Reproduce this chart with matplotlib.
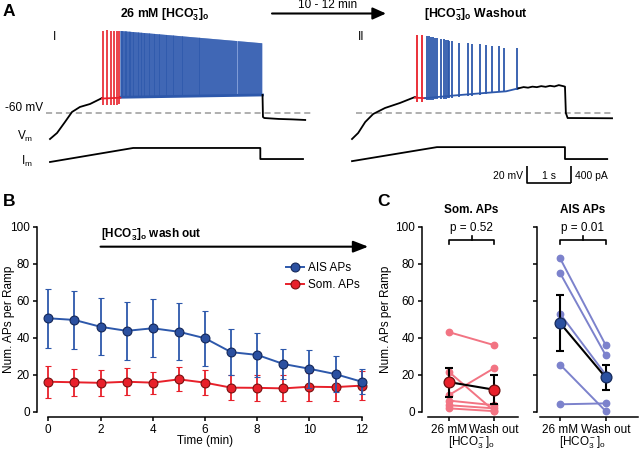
import numpy as np
import matplotlib
matplotlib.use('Agg')
import matplotlib.pyplot as plt
from matplotlib.patches import Polygon
from matplotlib.lines import Line2D

plt.rcParams['font.family'] = ['Liberation Sans', 'DejaVu Sans']
plt.rcParams['mathtext.fontset'] = 'custom'
plt.rcParams['mathtext.rm'] = 'Liberation Sans'
plt.rcParams['mathtext.bf'] = 'Liberation Sans:bold'
plt.rcParams['mathtext.it'] = 'Liberation Sans:italic'

# ---------------------------------------------------------------- data
# Panel A, trace I (26 mM HCO3-), time in s, Vm in mV, Im in pA
vm1_t = [0, 0.16, 0.34, 0.50, 0.68, 0.91, 1.14, 1.18]
vm1_v = [-90.6, -83.5, -70.6, -58.8, -52.9, -49.4, -43.5, -42.4]
red1_t = [1.197, 1.289, 1.38, 1.455, 1.516, 1.575]
red1_peak = [37, 37.5, 37, 37, 36.5, 36.5]
red1_trough = [-51, -51, -50.5, -50, -50, -49.5]
red1_base_t = [1.18, 1.60]
red1_base_v = [-43, -42]
blue1_t = [1.61, 1.64, 1.67, 1.70, 1.73, 1.76, 1.79, 1.82, 1.85, 1.885, 1.92,
           1.955, 1.99, 2.025, 2.06, 2.095, 2.13, 2.17, 2.205, 2.24, 2.28,
           2.315, 2.355, 2.39, 2.43, 2.47, 2.505, 2.545, 2.585, 2.625, 2.665,
           2.70, 2.745, 2.785, 2.825, 2.865, 2.905, 2.95, 2.99, 3.03, 3.075,
           3.115, 3.16, 3.20, 3.245, 3.29, 3.33, 3.375, 3.42, 3.46, 3.505,
           3.55, 3.595, 3.64, 3.685, 3.73, 3.775, 3.82, 3.865, 3.91, 3.96,
           4.005, 4.05, 4.095, 4.145, 4.19, 4.235, 4.285, 4.33, 4.375, 4.425,
           4.47, 4.52, 4.565, 4.61, 4.66, 4.705, 4.75, 4.795]
blue1_env_t = [1.60, 4.83]
blue1_env_peak = [36.5, 22.0]
blue1_env_trough = [-41.5, -38.8]
post1_t = [4.83, 4.84, 4.87, 5.2, 5.5, 5.8]
post1_v = [-38.8, -64.7, -65.9, -67.0, -67.5, -68.2]
im1_t = [0, 1.89, 4.78, 4.78, 5.75]
im1_i = [0, 330, 330, 70, 70]

# Panel A, trace II (washout)
vm2_t = [0, 0.14, 0.30, 0.48, 0.75, 1.09, 1.43]
vm2_v = [-90.6, -83.5, -70.6, -61.2, -54.1, -48.2, -41.2]
red2_t = [1.47, 1.598]
red2_peak = [31.8, 31.8]
red2_trough = [-47, -46.5]
red2_base_t = [1.43, 1.66]
red2_base_v = [-42, -42.5]
blue2_base_t = [1.66, 2.3, 3.0, 3.5, 3.78]
blue2_base_v = [-42.5, -39.5, -36.5, -34.5, -31.0]
blue2_t = [1.70, 1.75, 1.79, 1.85, 1.89, 1.94, 2.02, 2.08, 2.13, 2.18, 2.21,
           2.28, 2.44, 2.63, 2.73, 2.90, 3.05, 3.18, 3.33, 3.46, 3.74]
blue2_peak = [30.6, 30.6, 29.4, 29.4, 28.2, 28.2, 27.1, 27.1, 25.9, 25.9, 24.7,
              24.7, 22.4, 22.4, 21.2, 21.2, 20.0, 18.8, 18.8, 16.5, 16.5]
blue2_trough = [-45, -45, -44.5, -44.5, -44, -44, -43.5, -43, -43, -42.5, -42.5,
                -42, -41, -40, -39.5, -38.5, -37.5, -36.5, -35.5, -35, -33]
post2_t = [3.78, 3.9, 4.0, 4.1, 4.2, 4.3, 4.4, 4.5, 4.6, 4.7, 4.8, 4.84, 4.86,
           4.9, 5.3, 5.91]
post2_v = [-31, -29.5, -30.2, -29.0, -29.6, -28.4, -29.2, -28.0, -28.8, -27.2,
           -28.4, -29, -60, -65.9, -66.0, -66.2]
im2_t = [0, 1.93, 4.84, 4.84, 5.80]
im2_i = [20, 350, 350, 70, 70]

# Panel B
minutes = [0, 1, 2, 3, 4, 5, 6, 7, 8, 9, 10, 11, 12]
ais_mean = [50.5, 49.6, 45.9, 43.7, 45.1, 43.2, 39.7, 32.2, 30.7, 25.8, 23.2, 20.3, 16.2]
ais_err = [15.8, 15.6, 15.4, 15.6, 15.8, 15.4, 15.0, 12.3, 11.7, 8.0, 10.2, 9.9, 6.8]
som_mean = [16.2, 15.9, 15.6, 16.2, 15.7, 17.5, 15.7, 13.0, 12.9, 12.6, 13.5, 13.3, 14.1]
som_err = [8.7, 7.3, 6.9, 7.3, 5.9, 6.4, 6.6, 6.8, 6.9, 7.0, 7.5, 7.5, 7.7]

# Panel C
conds = ['26 mM', 'Wash out']
som_26 = [43, 21.5, 9, 6, 3.5, 1.8]
som_wash = [36, 0.5, 23.5, 3.5, 1.8, 0.3]
som_c_mean = [16.0, 11.9]
som_c_err = [7.85, 7.9]
ais_26 = [83, 75, 53, 25.5, 4]
ais_wash = [36, 30.5, 20, 0.3, 4.5]
ais_c_mean = [48.0, 18.5]
ais_c_err = [15.0, 6.9]

# ---------------------------------------------------------------- colours
RED = '#e8202a'
BLUE = '#2d58ab'
GREY = '#9a9a9a'
PINK = '#f27483'
LAV = '#7c82cc'

W, H = 640, 454
fig = plt.figure(figsize=(6.4, 4.54), dpi=100)


def ax_px(x0, y0, x1, y1):
    return fig.add_axes([x0 / W, 1 - y1 / H, (x1 - x0) / W, (y1 - y0) / H])


def ftext(x, y, s, **kw):
    fig.text(x / W, 1 - y / H, s, **kw)


FS = 8.5

# ---------------------------------------------------------------- panel A
PX_S = 44.0        # px per second
PX_MV = 0.85       # px per mV
PX_PA = 17 / 400   # px per pA
X0 = 50            # px of t=0 for trace I
T2 = 6.864         # time offset of trace II
axA = ax_px(0, 0, 640, 200)
axA.set_xlim(-X0 / PX_S, (640 - X0) / PX_S)
axA.set_ylim(-60 - 87 / PX_MV, -60 + 113 / PX_MV)
axA.axis('off')
axI = ax_px(0, 0, 640, 200)
axI.set_xlim(-X0 / PX_S, (640 - X0) / PX_S)
axI.set_ylim(-38 / PX_PA, 162 / PX_PA)
axI.axis('off')

lw_tr = 1.3
# dashed -60 mV line
axA.plot([-0.09, 5.95], [-60, -60], color=GREY, lw=1.1, dashes=(4, 2.5))
axA.plot([T2 + 0.09, T2 + 5.91], [-60, -60], color=GREY, lw=1.1, dashes=(4, 2.5))

# trace I
axA.plot(vm1_t, vm1_v, color='k', lw=lw_tr)
clip = Polygon([(blue1_env_t[0], blue1_env_trough[0]),
                (blue1_env_t[0], blue1_env_peak[0]),
                (blue1_env_t[1], blue1_env_peak[1]),
                (blue1_env_t[1], blue1_env_trough[1])],
               closed=True, transform=axA.transData)
axA.fill([blue1_env_t[0], blue1_env_t[0], blue1_env_t[1], blue1_env_t[1]],
         [blue1_env_trough[0], blue1_env_peak[0], blue1_env_peak[1], blue1_env_trough[1]],
         color='#7f9bd6', lw=0)
vl = axA.vlines(blue1_t, -60, 50, color=BLUE, lw=1.1)
vl.set_clip_path(clip)
axA.plot(blue1_env_t, blue1_env_trough, color=BLUE, lw=2)
axA.plot(red1_base_t, red1_base_v, color=RED, lw=lw_tr)
axA.vlines(red1_t, red1_trough, red1_peak, color=RED, lw=1.2)
axA.plot(post1_t, post1_v, color='k', lw=lw_tr)
axI.plot(im1_t, im1_i, color='k', lw=lw_tr)

# trace II
t2 = lambda ts: [T2 + v for v in ts]
axA.plot(t2(vm2_t), vm2_v, color='k', lw=lw_tr)
axA.plot(t2(red2_base_t), red2_base_v, color=RED, lw=lw_tr)
axA.vlines(t2(red2_t), red2_trough, red2_peak, color=RED, lw=1.3)
axA.plot(t2(blue2_base_t), blue2_base_v, color=BLUE, lw=lw_tr)
axA.vlines(t2(blue2_t), blue2_trough, blue2_peak, color=BLUE, lw=1.3)
axA.plot(t2(post2_t), post2_v, color='k', lw=lw_tr)
axI.plot(t2(im2_t), im2_i, color='k', lw=lw_tr)

# scale bars (20 mV, 1 s, 400 pA)
sb_t0 = (527 - X0) / PX_S
sb_v1 = -60 - (183 - 113) / PX_MV
axA.plot([sb_t0, sb_t0, sb_t0 + 1], [sb_v1 + 20, sb_v1, sb_v1], color='k', lw=1.2,
         solid_capstyle='butt')
sb_i1 = (162 - 183) / PX_PA
axI.plot([sb_t0 + 1, sb_t0 + 1], [sb_i1, sb_i1 + 400], color='k', lw=1.2,
         solid_capstyle='butt')
ftext(523, 176, '20 mV', ha='right', va='center', fontsize=7.5)
ftext(549, 176, '1 s', ha='center', va='center', fontsize=7.5)
ftext(575, 176, '400 pA', ha='left', va='center', fontsize=7.5)

ftext(43, 108, '-60 mV', ha='right', va='center', fontsize=8.5)
ftext(33, 136, r'V$_\mathrm{m}$', ha='right', va='center', fontsize=8.5)
ftext(33, 161, r'I$_\mathrm{m}$', ha='right', va='center', fontsize=8.5)
ftext(55, 37, 'I', ha='center', va='center', fontsize=8.5)
ftext(361, 37, 'II', ha='center', va='center', fontsize=8.5)

ftext(165, 15, r'26 mM [HCO$_\mathbf{3}^\mathbf{-}$]$_\mathbf{o}$', ha='center',
      va='center', fontsize=8.8, fontweight='bold')
ftext(476, 15, r'[HCO$_\mathbf{3}^\mathbf{-}$]$_\mathbf{o}$ Washout', ha='center',
      va='center', fontsize=8.8, fontweight='bold')
ftext(328, 5, '10 - 12 min', ha='center', va='center', fontsize=8.5)
fig.add_artist(matplotlib.patches.FancyArrowPatch(
    (272 / W, 1 - 13.5 / H), (386 / W, 1 - 13.5 / H), transform=fig.transFigure,
    arrowstyle='-|>,head_length=8,head_width=3.6', color='k', lw=1.5,
    shrinkA=0, shrinkB=0, mutation_scale=1))

ftext(3, 12, 'A', ha='left', va='center', fontsize=12.5, fontweight='bold')
ftext(3, 202, 'B', ha='left', va='center', fontsize=12.5, fontweight='bold')
ftext(377, 202, 'C', ha='left', va='center', fontsize=12.5, fontweight='bold')

# ---------------------------------------------------------------- common axis style
Y0, Y100 = 411.7, 226.7


def style(ax, xb, labels=True):
    for s in ['top', 'right']:
        ax.spines[s].set_visible(False)
    ax.spines['left'].set_bounds(0, 100)
    ax.spines['bottom'].set_bounds(*xb)
    ax.spines['bottom'].set_position(('outward', 5 * 0.72))
    for s in ['left', 'bottom']:
        ax.spines[s].set_linewidth(1.1)
    ax.set_ylim(0, 100)
    ax.set_yticks([0, 20, 40, 60, 80, 100])
    if not labels:
        ax.set_yticklabels([])
    ax.tick_params(direction='out', length=3, width=1.1, labelsize=FS, pad=2)


# ---------------------------------------------------------------- panel B
B_X0, B_PX = 48.3, 313.4 / 12
axB = ax_px(36.7, Y100, 48.3 + 12.35 * B_PX, Y0)
axB.set_xlim((36.7 - B_X0) / B_PX, 12.35)
style(axB, (0, 12))
axB.set_xticks([0, 2, 4, 6, 8, 10, 12])
axB.errorbar(minutes, som_mean, yerr=som_err, color=RED, lw=1.4, elinewidth=1.3,
             capsize=2.2, capthick=1.3, marker='o', ms=6.4, mfc=RED, mec='#7a1010',
             mew=0.8, clip_on=False, zorder=3)
axB.errorbar(minutes, ais_mean, yerr=ais_err, color=BLUE, lw=1.4, elinewidth=1.3,
             capsize=2.2, capthick=1.3, marker='o', ms=6.4, mfc='#2b50a0', mec='#14285a',
             mew=0.8, clip_on=False, zorder=4)
axB.annotate('', xy=(12.25, 89.2), xytext=(2, 89.2),
             arrowprops=dict(arrowstyle='-|>,head_length=0.9,head_width=0.35',
                             color='k', lw=1.5, shrinkA=0, shrinkB=0),
             annotation_clip=False)
axB.text(2, 95.5, r'[HCO$_\mathbf{3}^\mathbf{-}$]$_\mathbf{o}$ wash out', ha='left',
         va='center', fontsize=8.5, fontweight='bold')
h_ais = Line2D([], [], color=BLUE, lw=1.4, marker='o', ms=6.4, mfc='#2b50a0',
               mec='#14285a', mew=0.8)
h_som = Line2D([], [], color=RED, lw=1.4, marker='o', ms=6.4, mfc=RED,
               mec='#7a1010', mew=0.8)
fig.legend([h_ais, h_som], ['AIS APs', 'Som. APs'], loc='upper left',
           bbox_to_anchor=(286 / W, 1 - 262 / H), frameon=False, fontsize=FS,
           handlelength=1.5, handletextpad=0.4, labelspacing=0.45,
           borderpad=0, borderaxespad=0)
ftext(205, 441, 'Time (min)', ha='center', va='center', fontsize=FS)
ftext(9, 319, 'Num. APs per Ramp', ha='center', va='center', fontsize=FS,
      rotation=90)

# ---------------------------------------------------------------- panel C
def panel_c(x_spine, x_c0, px_u, x_end, xb, ind0, ind1, icol, mean, err, mfc,
            mec, title, ptxt, labels):
    ax = ax_px(x_spine, Y100, x_end, Y0)
    ax.set_xlim((x_spine - x_c0) / px_u, (x_end - x_c0) / px_u)
    style(ax, xb, labels)
    ax.set_xticks([0, 1])
    ax.set_xticklabels(conds)
    for a, b in zip(ind0, ind1):
        ax.plot([0, 1], [a, b], color=icol, lw=1.4, marker='o', ms=4.6,
                mec=icol, clip_on=False, zorder=2)
    ax.errorbar([0, 1], mean, yerr=err, color='k', lw=1.5, elinewidth=1.5,
                capsize=3, capthick=1.5, zorder=3, clip_on=False)
    ax.plot([0, 1], mean, ls='none', marker='o', ms=7.8, mfc=mfc, mec=mec,
            mew=0.9, zorder=4, clip_on=False)
    ax.plot([0, 0, 1, 1], [90.6, 92.8, 92.8, 90.6], color='k', lw=1.2,
            clip_on=False)
    ax.plot([0.5, 0.5], [92.8, 94.8], color='k', lw=1.2, clip_on=False)
    ax.text(0.5, 99.3, ptxt, ha='center', va='center', fontsize=FS)
    xc = x_c0 + 0.5 * px_u
    ftext(xc, 210, title, ha='center', va='center', fontsize=FS, fontweight='bold')
    ftext(xc, 443, r'[HCO$_3^-$]$_\mathrm{o}$', ha='center', va='center',
          fontsize=FS)
    return ax


panel_c(421.7, 449, 45, 521, (-0.46, 1.54), som_26, som_wash, PINK,
        som_c_mean, som_c_err, RED, '#6a0c0c', 'Som. APs', 'p = 0.52', True)
panel_c(536.7, 560, 45.7, 638, (-0.44, 1.7), ais_26, ais_wash, LAV,
        ais_c_mean, ais_c_err, '#2b50a0', '#14285a', 'AIS APs', 'p = 0.01', False)
ftext(386, 319, 'Num. APs per Ramp', ha='center', va='center', fontsize=FS,
      rotation=90)

fig.savefig('out.png', dpi=100)
